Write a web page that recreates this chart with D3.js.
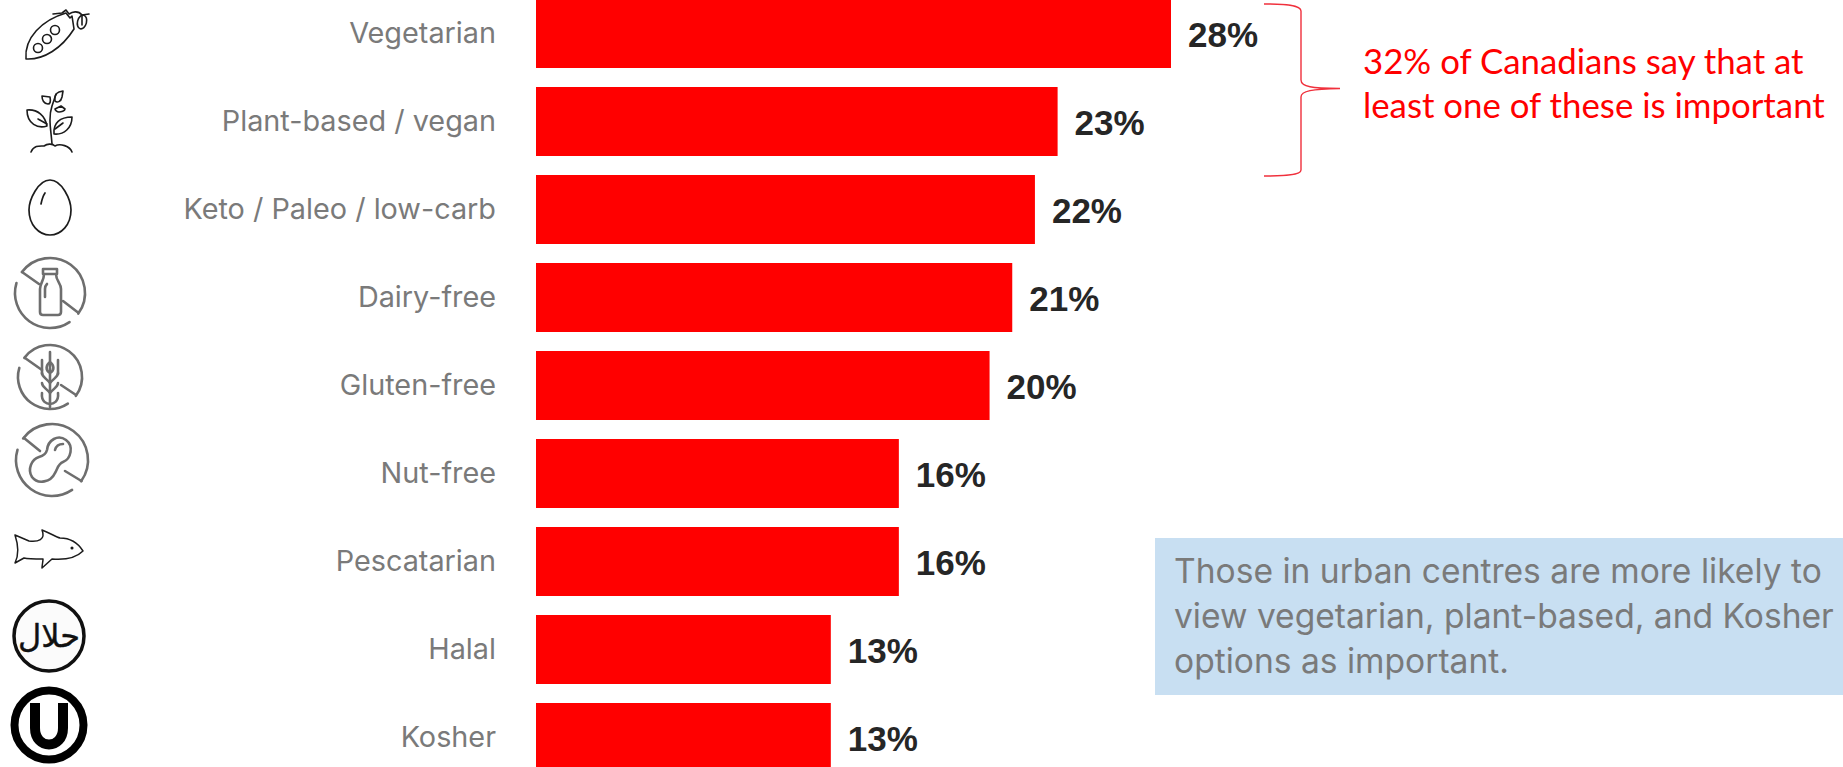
<!DOCTYPE html>
<html>
<head>
<meta charset="utf-8">
<script src="https://cdn.jsdelivr.net/npm/d3@7/dist/d3.min.js"></script>
<style>
  html, body { margin: 0; padding: 0; background: #fff; overflow: hidden; }
  svg { display: block; }
  .cat { font-family: Inter, sans-serif; font-size: 28.8px; fill: #7a7a7a; text-anchor: end; }
  .val { font-family: "Liberation Sans", Arial, sans-serif; font-weight: 700; font-size: 35px; fill: #262626; }
  .note { font-family: Lato, sans-serif; font-size: 34.8px; fill: #ff0000; }
  .box-text { font-family: Inter, sans-serif; font-size: 33.6px; fill: #7a7a7a; }
</style>
</head>
<body>
<svg id="chart" width="1843" height="767"></svg>
<script>
// Share of respondents rating each dietary option as important
const categories = ["Vegetarian", "Plant-based / vegan", "Keto / Paleo / low-carb", "Dairy-free",
  "Gluten-free", "Nut-free", "Pescatarian", "Halal", "Kosher"];
const shares = [28, 23, 22, 21, 20, 16, 16, 13, 13];
const iconKeys = ["pea", "sprout", "egg", "milk", "wheat", "peanut", "fish", "halal", "kosher"];
const noteLines = ["32% of Canadians say that at", "least one of these is important"];
const boxLines = ["Those in urban centres are more likely to",
  "view vegetarian, plant-based, and Kosher", "options as important."];

const svg = d3.select("#chart");

const x = d3.scaleLinear().domain([0, 28]).range([536, 1171]);
const y = d3.scaleBand().domain(categories).range([-10.5, 781.5]).paddingInner(0.216).paddingOuter(0.108);

// Bars
svg.selectAll("rect.bar").data(categories).join("rect")
  .attr("class", "bar")
  .attr("x", x(0))
  .attr("y", d => y(d))
  .attr("width", (d, i) => x(shares[i]) - x(0))
  .attr("height", y.bandwidth())
  .attr("fill", "#ff0000");

// Category labels
svg.selectAll("text.cat").data(categories).join("text")
  .attr("class", "cat")
  .attr("x", 496)
  .attr("y", d => y(d) + y.bandwidth() / 2 + 9.5)
  .text(d => d);

// Value labels
svg.selectAll("text.val").data(categories).join("text")
  .attr("class", "val")
  .attr("x", (d, i) => x(shares[i]) + 17)
  .attr("y", d => y(d) + y.bandwidth() / 2 + 13)
  .text((d, i) => shares[i] + "%");

// Brace tying the first two bars to the note
svg.append("path")
  .attr("d", "M1264,4 C1285,4 1301,5 1301,11 L1301,80 C1301,87 1312,88 1340,88.5 C1312,89 1301,91 1301,97 L1301,170 C1301,175 1285,176 1264,176")
  .attr("fill", "none").attr("stroke", "#f0303c").attr("stroke-width", 1.4);

svg.selectAll("text.note").data(noteLines).join("text")
  .attr("class", "note")
  .attr("x", 1363)
  .attr("y", (d, i) => 74 + i * 44)
  .text(d => d);

// Callout box
svg.append("rect").attr("x", 1155).attr("y", 538).attr("width", 688).attr("height", 157).attr("fill", "#c8dff2");
svg.selectAll("text.box-text").data(boxLines).join("text")
  .attr("class", "box-text")
  .attr("x", 1174)
  .attr("y", (d, i) => 583 + i * 45)
  .text(d => d);

// Line icons in the left margin, one per row
const iconCenters = [[50, 30], [50, 118], [50, 208], [50, 293], [50, 377], [52, 460], [50, 553], [49, 636], [49, 725]];
const icons = svg.selectAll("g.icon").data(iconKeys).join("g")
  .attr("class", "icon")
  .attr("transform", (d, i) => `translate(${iconCenters[i][0]},${iconCenters[i][1]})`)
  .attr("fill", "none").attr("stroke-linecap", "round").attr("stroke-linejoin", "round");

const black = "#1c1c1c", grey = "#6e6e6e";

function draw(key, fn) { fn(icons.filter(d => d === key)); }

draw("pea", g => {
  g.attr("stroke", black).attr("stroke-width", 1.6);
  g.append("path").attr("d", "M-24,29 C-26,8 -8,-10 16,-17 L20,-12 L22,-14 L24,-1 C12,18 -6,30 -24,29 Z");
  g.append("path").attr("d", "M3,-16 L12,-17 L16,-20 L19,-16 C22,-18 28,-20 32,-15 L32,-5 M32,-15 L39,-16");
  g.append("ellipse").attr("cx", 32).attr("cy", -8).attr("rx", 4.5).attr("ry", 7).attr("transform", "rotate(15 32 -8)");
  [[-12, 18], [-3, 9], [5, 0]].forEach(c => g.append("circle").attr("cx", c[0]).attr("cy", c[1]).attr("r", 4.5));
});

draw("sprout", g => {
  g.attr("stroke", black).attr("stroke-width", 1.6);
  g.append("path").attr("d", "M-19,34 C-16,27 -10,28 -6,28 C-3,26 2,25 5,28 C10,25 20,28 22,34");
  g.append("path").attr("d", "M2,26 C1,12 -2,0 2,-12 L6,-24");
  g.append("path").attr("d", "M-23,-8 C-12,-9 -5,-2 -3,8 C-12,11 -23,6 -23,-8 Z");
  g.append("path").attr("d", "M22,-1 C10,-1 3,5 4,16 C14,17 22,10 22,-1 Z");
  g.append("path").attr("d", "M9,-26 L13,-27 L12,-21 C11,-16 7,-15 5,-17 C4,-21 6,-25 9,-26 Z");
  g.append("path").attr("d", "M-8,-22 L0,-21 C1,-16 0,-14 -2,-14 C-6,-14 -8,-18 -8,-22 Z");
  g.append("path").attr("d", "M5,-9 L11,-12 L15,-9 C15,-7 11,-6 9,-6 C7,-6 5,-8 5,-9 Z");
  g.append("path").attr("d", "M-12,1 L-3,6 M13,5 L5,11");
});

draw("egg", g => {
  g.attr("stroke", black).attr("stroke-width", 1.7);
  g.append("path").attr("d", "M0,-28 C12,-28 21,-8 21,2 C21,17 11,27 0,27 C-11,27 -21,17 -21,2 C-21,-8 -12,-28 0,-28 Z");
  g.append("path").attr("d", "M-9,-4 C-8,-9 -7,-12 -5,-15");
});

// Crossed-out ring shared by the three "free from" icons: the slash meets the
// ring at both ends, leaving a gap in the arc beside each end
function ring(g, r) {
  const arc = d3.arc().innerRadius(r).outerRadius(r);
  g.append("path").attr("d", arc({ startAngle: -0.93, endAngle: 2.2 }));
  g.append("path").attr("d", arc({ startAngle: 2.55, endAngle: 5.0 }));
}

draw("milk", g => {
  g.attr("stroke", grey).attr("stroke-width", 2.6);
  ring(g, 35);
  g.append("path").attr("d", "M-28,-21 L-11,-9 M13,8 L28,19.5");
  g.append("path").attr("d", "M-7,-24 H7 V-19 H-7 Z M-6,-19 C-6,-12 -10,-10 -10,-4 V19 C-10,21 -9,22 -7,22 H8 C10,22 11,21 11,19 V-4 C11,-10 6,-12 6,-19");
  g.append("path").attr("d", "M-5,4 V-4 C-5,-6 -4,-8 -3,-9");
});

draw("wheat", g => {
  g.attr("stroke", grey).attr("stroke-width", 2.6);
  ring(g, 32);
  g.append("path").attr("d", "M-25,-19 L-8,-7 M11,8 L26,18");
  g.append("path").attr("d", "M0,-25 V30 M-8,-17 V-3 M8,-17 V-3");
  g.append("path").attr("d", "M0,-15 C4,-12 5,-7 0,-4 C-5,-7 -4,-12 0,-15 Z");
  g.append("path").attr("d", "M-8,-4 C-8,0 -4,1 0,6 C4,1 8,0 8,-4 M-8,6 C-8,10 -4,11 0,16 C4,11 8,10 8,6 M-8,16 C-9,25 -3,27 0,27 C3,27 9,25 8,16");
});

draw("peanut", g => {
  g.attr("stroke", grey).attr("stroke-width", 2.6);
  ring(g, 36);
  g.append("path").attr("d", "M-28,-22 L-12,-9 M13,11 L29.5,21");
  g.append("path").attr("d", "M-5,-10 C-4,-20 6,-26 14,-20 C22,-14 19,-1 11,2 C6,4 6,8 3,13 C-1,22 -14,25 -20,17 C-25,9 -20,-1 -13,-3 C-9,-4 -6,-6 -5,-10 Z");
  g.append("path").attr("d", "M3,-10 C4,-14 7,-16 11,-16");
});

draw("fish", g => {
  g.attr("stroke", black).attr("stroke-width", 1.5);
  g.append("path").attr("d", "M-35,-18 L-21,-12 C-12,-11 -4,-13 -8,-23 C0,-20 6,-16 10,-15 C20,-15 28,-10 33,-2 C26,5 14,7 2,6 L-8,15 C-8,12 -7,9 -7,6 C-14,6 -22,6 -26,5 L-35,10 C-31,2 -31,-6 -35,-18 Z");
  g.append("circle").attr("cx", 22).attr("cy", -5).attr("r", 0.8).attr("fill", black);
});

draw("halal", g => {
  g.append("circle").attr("r", 35).attr("stroke", "#101010").attr("stroke-width", 3.5).attr("fill", "#fbfbfb");
  g.append("text").text("حلال").attr("text-anchor", "middle").attr("y", 11)
    .attr("font-family", "DejaVu Sans").attr("font-size", 32).attr("fill", "#101010").attr("stroke", "#101010").attr("stroke-width", 0.4);
});

draw("kosher", g => {
  g.append("circle").attr("r", 34.5).attr("stroke", "#000").attr("stroke-width", 8);
  g.append("path").attr("d", "M-14,-22 V3 C-14,25 14,25 14,3 V-22").attr("stroke", "#000").attr("stroke-width", 10).attr("stroke-linecap", "butt");
});
</script>
</body>
</html>
